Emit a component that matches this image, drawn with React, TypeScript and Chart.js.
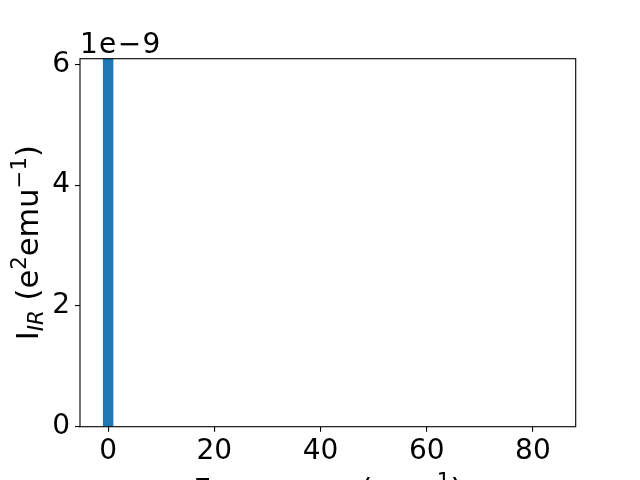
import React, { useEffect, useRef } from "react";
import { Chart, registerables } from "chart.js";

Chart.register(...registerables);

// ---- data ----
const frequencies: number[] = [0];
const intensities: number[] = [6.1e-9];
const xTickValues: number[] = [0, 20, 40, 60, 80];
const yTickValues: number[] = [0, 2e-9, 4e-9, 6e-9];
const yScaleFactor = 1e-9;
const offsetLabel = "1e\u22129";

const X_MIN = -5.3;
const X_MAX = 88.06;
const Y_MIN = 0;
const Y_MAX = 6.093e-9;

const FONT = '"DejaVu Sans"';
const TICK_SIZE = 28;
const LABEL_SIZE = 30.5;

type Seg = { t: string; s: number; dy: number; it?: boolean };

const yLabelSegs: Seg[] = [
  { t: "I", s: 1, dy: 0 },
  { t: "IR", s: 0.7, dy: 0.17, it: true },
  { t: " (e", s: 1, dy: 0 },
  { t: "2", s: 0.7, dy: -0.38 },
  { t: "emu", s: 1, dy: 0 },
  { t: "\u22121", s: 0.7, dy: -0.38 },
  { t: ")", s: 1, dy: 0 },
];

const xLabelSegs: Seg[] = [
  { t: "Frequency (cm", s: 1, dy: 0 },
  { t: "\u22121", s: 0.7, dy: -0.38 },
  { t: ")", s: 1, dy: 0 },
];

function segFont(seg: Seg, size: number) {
  return `${seg.it ? "italic " : ""}${size * seg.s}px ${FONT}`;
}

function drawMath(ctx: CanvasRenderingContext2D, segs: Seg[], cx: number, baseline: number, size: number) {
  let total = 0;
  const widths = segs.map((seg) => {
    ctx.font = segFont(seg, size);
    const w = ctx.measureText(seg.t).width;
    total += w;
    return w;
  });
  let x = cx - total / 2;
  ctx.textAlign = "left";
  ctx.textBaseline = "alphabetic";
  ctx.fillStyle = "#000";
  segs.forEach((seg, i) => {
    ctx.font = segFont(seg, size);
    ctx.fillText(seg.t, x, baseline + seg.dy * size);
    x += widths[i];
  });
}

const framePlugin = {
  id: "frameAndLabels",
  afterDraw(chart: any) {
    const { ctx, chartArea } = chart;
    const { left, right, top, bottom } = chartArea;
    ctx.save();
    ctx.strokeStyle = "#000";
    ctx.lineWidth = 1.1;
    ctx.strokeRect(left, top, right - left, bottom - top);

    // offset text
    ctx.save();
    ctx.font = `${TICK_SIZE}px ${FONT}`;
    ctx.fillStyle = "#000";
    ctx.textAlign = "left";
    ctx.textBaseline = "alphabetic";
    try {
      (ctx as any).letterSpacing = "1.3px";
    } catch (e) {}
    ctx.fillText(offsetLabel, left, top - 5.5);
    ctx.restore();

    // y label
    ctx.save();
    ctx.translate(38, (top + bottom) / 2);
    ctx.rotate(-Math.PI / 2);
    drawMath(ctx, yLabelSegs, 0, 0, LABEL_SIZE);
    ctx.restore();

    // x label
    drawMath(ctx, xLabelSegs, (left + right) / 2, 500, LABEL_SIZE);
    ctx.restore();
  },
};

export default function App() {
  const canvasRef = useRef<HTMLCanvasElement | null>(null);

  useEffect(() => {
    const canvas = canvasRef.current;
    if (!canvas) return;
    const chart = new Chart(canvas, {
      type: "bar",
      data: {
        datasets: [
          {
            data: frequencies.map((f, i) => ({ x: f, y: intensities[i] })),
            backgroundColor: "#1f77b4",
            borderWidth: 0,
            barThickness: 9.8,
          },
        ],
      },
      options: {
        animation: false,
        responsive: false,
        maintainAspectRatio: false,
        layout: { padding: { top: 58.7, right: 64.3, left: 0, bottom: 0 } },
        plugins: {
          legend: { display: false },
          tooltip: { enabled: false },
        },
        scales: {
          x: {
            type: "linear",
            min: X_MIN,
            max: X_MAX,
            offset: false,
            grid: {
              offset: false,
              display: true,
              drawOnChartArea: false,
              drawTicks: true,
              tickLength: 5,
              color: "#000",
              lineWidth: 1.1,
            },
            border: { display: false },
            ticks: {
              font: { family: "DejaVu Sans", size: TICK_SIZE },
              color: "#000",
              padding: 3,
              maxRotation: 0,
              autoSkip: false,
              callback: (v: any) => String(v),
            },
            afterBuildTicks: (scale: any) => {
              scale.ticks = xTickValues.map((v) => ({ value: v }));
            },
            afterFit: (scale: any) => {
              scale.height = 480 - 426.7;
            },
          },
          y: {
            type: "linear",
            min: Y_MIN,
            max: Y_MAX,
            grid: {
              display: true,
              drawOnChartArea: false,
              drawTicks: true,
              tickLength: 5,
              color: "#000",
              lineWidth: 1.1,
            },
            border: { display: false },
            ticks: {
              font: { family: "DejaVu Sans", size: TICK_SIZE },
              color: "#000",
              padding: 5,
              autoSkip: false,
              callback: (v: any) => String(Math.round(Number(v) / yScaleFactor)),
            },
            afterBuildTicks: (scale: any) => {
              scale.ticks = yTickValues.map((v) => ({ value: v }));
            },
            afterFit: (scale: any) => {
              scale.width = 80;
            },
          },
        },
      },
      plugins: [framePlugin],
    } as any);
    return () => chart.destroy();
  }, []);

  return (
    <div style={{ position: "fixed", left: 0, top: 0, width: 640, height: 480, background: "#fff" }}>
      <canvas ref={canvasRef} width={640} height={480} style={{ width: 640, height: 480 }} />
    </div>
  );
}
